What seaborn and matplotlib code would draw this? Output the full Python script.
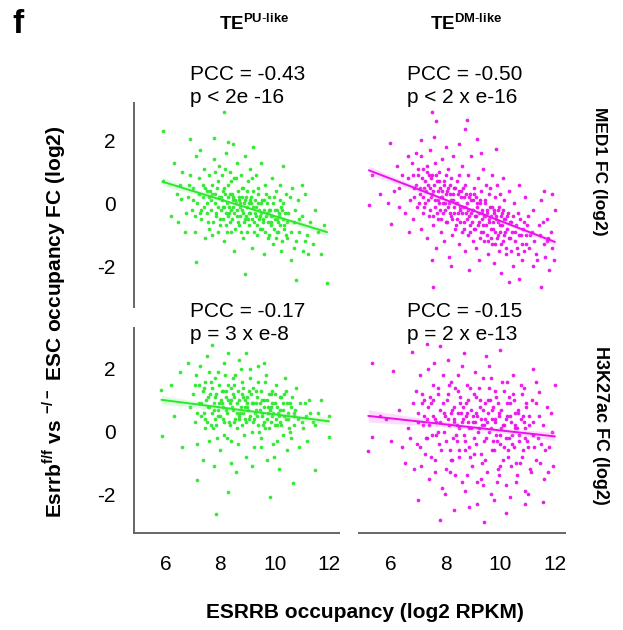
import pandas as pd
import matplotlib
matplotlib.use('Agg')
import matplotlib.pyplot as plt
import seaborn as sns

# ESRRB occupancy (log2 RPKM) vs occupancy FC (log2)
# TE PU-like, MED1
pu_med1 = [
    (5.87, 2.31), (8.12, 2.91), (11.93, -2.53), (8.9, -2.24), (7.12, -1.85), (6.88, 2.04),
    (7.76, 2.07), (8.3, 1.95), (11.24, -1.6), (10.79, -2.42), (6.2, -0.4), (6.69, -0.9),
    (5.9, 0.7), (6.3, 1.3), (6.55, 0.15),
    (7.2, 0.8), (7.3, -0.2), (7.4, 1.1), (7.5, 0.4), (7.55, -0.6), (7.6, 0.9), (7.65, 0.1),
    (7.7, -1.0), (7.75, 1.4), (7.8, 0.3), (7.85, -0.3), (7.9, 0.7), (7.95, 1.2), (8.0, -0.5),
    (8.02, 0.2), (8.05, 0.9), (8.1, -0.1), (8.12, -1.2), (8.15, 0.5), (8.2, 1.6), (8.22, -0.7),
    (8.25, 0.0), (8.3, 0.6), (8.32, -0.3), (8.35, 1.0), (8.4, -0.9), (8.42, 0.3), (8.45, -0.1),
    (8.5, 0.8), (8.52, -1.5), (8.55, 0.1), (8.6, -0.4), (8.62, 1.3), (8.65, 0.4), (8.7, -0.7),
    (8.72, 0.0), (8.75, 0.9), (8.8, -0.2), (8.82, -1.1), (8.85, 0.5), (8.9, 1.5), (8.92, -0.5),
    (8.95, 0.2), (9.0, -0.9), (9.02, 0.7), (9.05, -0.3), (9.1, 1.1), (9.12, 0.0), (9.15, -1.4),
    (9.2, 0.4), (9.25, -0.6), (9.3, 0.9), (9.32, -0.1), (9.35, -1.0), (9.4, 0.3), (9.45, -0.4),
    (9.5, 1.3), (9.55, -0.8), (9.6, 0.1), (9.62, -1.6), (9.65, 0.6), (9.7, -0.3), (9.75, -1.1),
    (9.8, 0.2), (9.85, -0.6), (9.9, 0.8), (9.95, -1.3), (10.0, -0.2), (10.05, 0.4), (10.1, -0.9),
    (10.15, -0.4), (10.2, 0.6), (10.25, -1.5), (10.3, 0.0), (10.35, -0.7), (10.4, 0.3),
    (10.45, -1.1), (10.5, -0.3), (10.6, -1.8), (10.65, 0.5), (10.7, -0.6), (10.8, -1.2),
    (10.85, 0.1), (10.9, -0.9), (11.0, -0.4), (11.05, -1.5), (11.1, 0.3), (11.2, -1.0),
    (11.3, -0.6), (11.4, -1.3), (11.5, -0.2), (11.6, -0.9), (11.7, -1.6), (11.8, -0.7),
    (7.0, 0.5), (7.05, -0.4), (7.1, 1.5), (6.9, 0.9), (6.8, 0.2), (6.75, -0.3), (6.6, 1.0),
    (6.5, 0.6), (6.45, -0.6), (6.4, 0.3), (7.15, 0.0), (7.25, 1.7), (7.35, 0.6), (7.45, -1.1),
    (7.58, 0.2), (7.68, 0.6), (7.82, 1.0), (7.92, -0.9), (8.08, 0.4), (8.18, 1.1), (8.28, -0.4),
    (8.38, 0.7), (8.48, 0.2), (8.58, 0.8), (8.68, 0.2), (8.78, 0.5), (8.88, 0.0), (8.98, 0.4),
    (9.08, 0.1), (9.18, 0.8), (9.28, -0.3), (9.38, 0.5), (9.48, 0.0), (9.58, -0.5), (9.68, 0.3),
    (9.78, -0.2), (9.88, -0.4), (9.98, 0.2), (10.08, -0.5), (10.18, 0.1), (10.28, -0.2),
    (10.55, 0.2), (10.75, -0.2), (8.45, 1.9), (9.2, 1.8), (10.3, 1.2), (11.0, 0.6),
    (7.3, -0.5), (7.35, 0.2), (7.4, -0.1), (7.45, 0.5), (7.5, -0.3), (7.52, 0.0), (7.57, -0.8),
    (7.62, 0.4), (7.66, -0.2), (7.71, 0.3), (7.74, -0.6), (7.79, 0.0), (7.83, -0.4), (7.87, 0.5),
    (7.91, -0.1), (7.96, 0.2), (7.99, -0.7), (8.03, -0.2), (8.06, 0.1), (8.11, -0.5), (8.14, -0.1),
    (8.17, 0.3), (8.21, -0.3), (8.24, -0.9), (8.27, 0.2), (8.31, -0.1), (8.34, -0.6), (8.37, 0.3),
    (8.41, -0.2), (8.44, -0.5), (8.47, 0.1), (8.51, -0.3), (8.54, -0.8), (8.57, 0.0), (8.61, -0.2),
    (8.64, -0.6), (8.67, 0.1), (8.71, -0.4), (8.74, -0.1), (8.77, -0.9), (8.81, 0.2), (8.84, -0.3),
    (8.87, -0.6), (8.91, 0.1), (8.94, -0.4), (8.97, -0.1), (9.01, -0.5), (9.04, 0.0), (9.07, -0.7),
    (9.11, -0.3), (9.14, 0.2), (9.17, -0.5), (9.21, -0.1), (9.24, -0.9), (9.27, 0.1), (9.31, -0.4),
    (9.34, -0.7), (9.37, 0.0), (9.41, -0.5), (9.44, -0.2), (9.47, -0.8), (9.51, -0.3), (9.54, 0.1),
    (9.57, -0.6), (9.61, -0.2), (9.64, -0.9), (9.67, -0.4), (9.71, 0.0), (9.74, -0.6), (9.77, -0.3),
    (9.81, -1.0), (9.84, -0.2), (9.87, -0.7), (9.91, -0.4), (9.94, 0.0), (9.97, -0.8), (10.01, -0.5),
    (10.04, -1.1), (10.07, -0.2), (10.11, -0.6), (10.14, -0.9), (10.17, -0.3), (10.21, -0.7),
    (10.24, -0.1), (10.27, -1.2), (10.31, -0.5), (10.34, -0.8), (10.38, -0.3), (10.42, -1.0),
    (10.46, -0.6), (7.2, 0.3), (7.25, -0.3), (7.0, 0.1), (6.95, -0.2), (6.85, 0.6), (7.08, -0.9),
    (10.6, -0.9), (10.7, -1.4), (10.9, -0.5), (11.1, -1.2),
]

# TE DM-like, MED1
dm_med1 = [
    (7.49, 2.9), (7.65, 2.63), (8.77, 2.65), (8.7, 2.37), (5.96, 1.93), (5.18, -0.05),
    (6.0, -0.66), (7.52, -2.64), (11.5, -2.64), (11.95, -1.79), (12.0, -0.2), (9.14, 2.04),
    (9.85, 1.72), (5.3, 0.9), (5.6, 0.3), (5.9, 0.0), (6.3, 0.5), (6.5, -0.3), (6.2, 1.2),
    (7.1, 2.0), (10.7, -2.4), (11.2, -2.0), (10.3, -2.5), (11.7, -1.2), (11.6, 0.4),
    (6.6, 0.8), (6.7, 0.1), (6.75, 1.3), (6.8, -0.5), (6.85, 0.5), (6.9, 1.6), (6.95, -0.1),
    (7.0, 0.9), (7.05, 0.3), (7.1, -0.8), (7.15, 1.1), (7.2, 0.5), (7.18, -0.3), (6.65, -0.9),
    (7.08, 1.5), (7.25, 0.0), (7.3, 1.2), (7.32, -1.1), (7.35, 0.6), (7.4, -0.4), (7.42, 1.7),
    (7.45, 0.2), (7.5, 0.9), (7.52, -0.7), (7.55, 0.4), (7.6, -0.1), (7.62, 1.3), (7.65, -1.4),
    (7.68, 0.7), (7.7, 0.1), (7.72, -0.5), (7.75, 1.0), (7.78, -0.2), (7.8, 0.5), (7.38, 0.9),
    (7.58, 2.1), (7.48, -1.8), (7.82, -0.9), (7.85, 0.2), (7.88, 1.4), (7.9, -0.3), (7.92, 0.7),
    (7.95, -1.2), (7.98, 0.0), (8.0, 0.9), (8.02, -0.6), (8.05, 0.4), (8.08, -0.1), (8.1, 1.1),
    (8.12, -1.7), (8.15, 0.3), (8.18, -0.4), (8.2, 0.8), (8.22, -1.0), (8.25, 0.1), (8.28, 1.5),
    (8.3, -0.3), (8.32, 0.5), (8.35, -0.8), (8.38, 0.0), (8.4, 0.7), (8.0, 1.8), (8.2, -2.0),
    (8.42, -0.5), (8.45, 0.3), (8.48, -1.3), (8.5, 0.9), (8.52, -0.2), (8.55, 0.4), (8.58, -0.9),
    (8.6, 1.2), (8.62, -0.1), (8.65, -0.6), (8.68, 0.2), (8.7, -1.5), (8.72, 0.6), (8.75, -0.3),
    (8.78, 0.0), (8.8, -1.0), (8.82, 0.9), (8.85, -0.4), (8.88, 0.3), (8.9, -0.7), (8.92, 1.5),
    (8.95, -0.2), (8.98, -1.2), (8.5, 1.9), (8.85, -2.1), (9.0, 0.1), (9.02, -0.8), (9.05, 0.5),
    (9.08, -0.4), (9.1, -1.4), (9.12, 0.2), (9.15, -0.1), (9.18, 0.8), (9.2, -0.6), (9.22, -1.8),
    (9.25, 0.0), (9.28, -0.9), (9.3, 0.4), (9.32, -0.3), (9.35, 1.1), (9.38, -0.7), (9.4, -1.2),
    (9.42, 0.1), (9.45, -0.4), (9.48, 0.6), (9.5, -1.0), (9.52, -0.2), (9.55, -1.6), (9.58, 0.3),
    (9.3, 1.6), (9.6, -0.6), (9.62, 0.5), (9.65, -1.1), (9.68, -0.1), (9.7, 0.9), (9.72, -0.8),
    (9.75, -1.9), (9.78, -0.3), (9.8, 0.2), (9.82, -1.3), (9.85, -0.5), (9.88, 0.6), (9.9, -1.0),
    (9.92, -0.2), (9.95, -1.5), (9.98, 0.3), (10.0, -0.7), (10.02, -2.2), (10.05, -0.3),
    (10.08, 0.8), (10.1, -1.2), (10.12, -0.5), (10.15, 0.1), (10.18, -0.9), (10.2, -1.6),
    (10.25, -0.4), (10.3, 0.4), (10.35, -1.1), (10.4, -0.6), (10.45, -2.0), (10.5, 0.0),
    (10.55, -0.9), (10.6, -1.4), (10.65, -0.3), (10.7, 0.6), (10.75, -1.0), (10.8, -1.8),
    (10.85, -0.6), (10.9, 0.2), (10.95, -1.3), (11.0, -0.4), (11.1, -1.0), (11.2, -0.2),
    (11.3, -1.6), (11.4, -0.7), (11.5, 0.1), (11.6, -1.3), (11.7, -0.5), (11.8, -2.1),
    (11.85, -0.9), (11.9, 0.3),
    (6.8, 0.9), (6.85, 0.2), (6.92, 0.6), (6.98, 1.1), (7.03, 0.0), (7.07, 0.5), (7.12, 0.8),
    (7.16, 0.2), (7.21, -0.1), (7.24, 0.7), (7.28, 0.4), (7.33, 1.0), (7.36, 0.1), (7.41, 0.5),
    (7.44, -0.2), (7.47, 0.8), (7.51, 0.3), (7.54, -0.4), (7.57, 0.6), (7.61, 0.1), (7.64, 0.9),
    (7.67, -0.3), (7.71, 0.4), (7.74, 0.0), (7.77, 0.7), (7.81, 0.2), (7.84, -0.5), (7.87, 0.4),
    (7.91, 0.0), (7.94, 0.6), (7.97, -0.2), (8.01, 0.3), (8.04, -0.6), (8.07, 0.5), (8.11, 0.0),
    (8.14, -0.3), (8.17, 0.6), (8.21, 0.1), (8.24, -0.5), (8.27, 0.3), (8.31, -0.1), (8.34, 0.5),
    (8.37, -0.7), (8.41, 0.0), (8.44, -0.3), (8.47, 0.4), (8.51, -0.1), (8.54, -0.6), (8.57, 0.2),
    (8.61, -0.3), (8.64, 0.5), (8.67, -0.8), (8.71, -0.1), (8.74, 0.3), (8.77, -0.5), (8.81, -0.2),
    (8.84, 0.2), (8.87, -0.9), (8.91, -0.3), (8.94, 0.1), (8.97, -0.6), (9.01, -0.2), (9.04, 0.3),
    (9.07, -0.8), (9.11, -0.4), (9.14, 0.0), (9.17, -0.7), (9.21, -0.3), (9.24, -1.1), (9.27, 0.1),
    (9.31, -0.5), (9.34, -0.2), (9.37, -0.9), (9.41, -0.4), (9.44, 0.0), (9.47, -0.7), (9.51, -0.3),
    (9.54, -1.2), (9.57, -0.5), (9.61, -0.1), (9.64, -0.8), (9.67, -0.4), (9.71, -1.3), (9.74, -0.6),
    (9.77, -0.2), (9.81, -0.9), (9.84, -0.4), (9.87, -1.1), (9.91, -0.6), (9.94, -0.1), (9.97, -0.9),
    (10.01, -0.4), (10.04, -1.3), (10.07, -0.7), (10.11, -0.2), (10.14, -1.0), (10.17, -0.5),
    (10.21, -1.4), (10.24, -0.8), (10.27, -0.3), (10.31, -1.1), (10.34, -0.6), (10.38, -1.5),
    (10.42, -0.9), (10.46, -0.4), (10.52, -1.2), (10.58, -0.7), (10.63, -1.6), (10.68, -1.0),
    (10.73, -0.5), (10.78, -1.3), (10.83, -0.8), (10.88, -1.5), (10.93, -1.0), (10.98, -0.7),
    (11.05, -1.4), (11.15, -0.9), (11.25, -1.2), (11.35, -1.8), (11.45, -1.0), (11.55, -0.6),
    (11.65, -1.7), (11.75, -1.1), (11.9, -1.4), (6.4, 0.9), (6.6, 1.5), (6.3, -0.1), (6.1, 0.4),
]

# TE PU-like, H3K27ac
pu_h3k27ac = [
    (7.84, -2.63), (8.29, -1.94), (9.82, -2.1), (7.13, -1.54), (5.83, 1.33), (5.86, -0.13),
    (7.68, 2.77), (12.0, -0.18), (11.48, -1.22), (10.68, -1.63), (8.94, 2.5), (6.3, 0.5),
    (6.5, 1.9), (6.2, 1.5), (6.8, 2.2), (6.6, -0.5), (11.7, 1.0), (11.5, 0.2), (12.0, 0.5),
    (7.0, 1.2), (7.05, 0.3), (7.1, 1.8), (7.15, -0.4), (7.2, 0.9), (7.25, 2.1), (7.3, 0.5),
    (7.35, -0.9), (7.4, 1.4), (7.45, 0.1), (7.5, 2.4), (7.55, 0.8), (7.6, -0.3), (7.65, 1.6),
    (7.7, 0.6), (7.75, -1.1), (7.8, 1.1), (7.85, 0.2), (7.9, 1.9), (7.95, 0.9), (8.0, -0.6),
    (8.05, 1.3), (8.1, 0.4), (8.15, 2.2), (8.2, 0.7), (8.25, -0.2), (8.3, 1.5), (8.35, 0.9),
    (8.4, -1.0), (8.45, 1.2), (8.5, 0.3), (8.55, 1.8), (8.6, 0.6), (8.65, -0.4), (8.7, 1.0),
    (8.75, 2.0), (8.8, 0.2), (8.85, 1.4), (8.9, 0.8), (8.95, -0.8), (9.0, 1.1), (9.05, 0.4),
    (9.1, 1.7), (9.15, 0.0), (9.2, 0.9), (9.25, -0.5), (9.3, 1.3), (9.35, 0.5), (9.4, 2.1),
    (9.45, 0.7), (9.5, -0.2), (9.55, 1.0), (9.6, 0.3), (9.65, 1.6), (9.7, -0.9), (9.75, 0.8),
    (9.8, 0.1), (9.85, 1.2), (9.9, 0.5), (9.95, -0.4), (10.0, 0.9), (10.05, 1.5), (10.1, 0.2),
    (10.15, -1.2), (10.2, 0.7), (10.25, 1.1), (10.3, -0.1), (10.35, 0.5), (10.4, 1.3),
    (10.45, -0.6), (10.5, 0.4), (10.55, 0.9), (10.6, -0.2), (10.7, 0.6), (10.8, 1.4),
    (10.9, -0.5), (11.0, 0.3), (11.1, 0.9), (11.2, -0.3), (11.3, 0.6),
    (7.22, 1.5), (7.42, 0.4), (7.62, 1.2), (7.72, 0.1), (7.82, 1.7), (7.92, 0.5), (8.02, 1.0),
    (8.12, -0.1), (8.22, 1.3), (8.32, 0.3), (8.42, 0.8), (8.52, 1.5), (8.62, 0.1), (8.72, 0.6),
    (8.82, 1.1), (8.92, 0.4), (9.02, 0.7), (9.12, 1.2), (9.22, 0.3), (9.32, 0.9), (9.42, 0.0),
    (9.52, 0.6), (9.62, 1.0), (9.72, 0.4), (9.82, 0.7), (9.92, 1.3), (10.02, 0.2), (10.12, 0.6),
    (10.32, 0.9), (10.52, 0.1), (10.72, 0.5), (7.48, 1.0), (7.78, 0.7), (8.08, 0.8), (8.38, 1.0),
    (8.68, 0.4), (8.98, 0.9), (9.28, 0.6), (9.58, 0.2), (9.88, 0.8), (10.18, 0.3), (8.58, -1.3),
    (9.18, -1.1), (8.28, 2.5), (9.6, 2.2),
    (7.3, 0.9), (7.35, 1.3), (7.4, 0.6), (7.45, 1.6), (7.5, 0.3), (7.55, 1.1), (7.6, 0.8),
    (7.65, 0.2), (7.7, 1.4), (7.75, 0.9), (7.8, 0.4), (7.85, 1.2), (7.9, 0.7), (7.95, 1.5),
    (8.0, 0.5), (8.05, 0.9), (8.1, 1.3), (8.15, 0.3), (8.2, 1.1), (8.25, 0.6), (8.3, 1.0),
    (8.35, 0.2), (8.4, 1.4), (8.45, 0.7), (8.5, 1.1), (8.55, 0.4), (8.6, 0.9), (8.65, 1.3),
    (8.7, 0.5), (8.75, 0.8), (8.8, 1.2), (8.85, 0.6), (8.9, 1.0), (8.95, 0.3), (9.0, 0.8),
    (9.05, 1.3), (9.1, 0.5), (9.15, 0.9), (9.2, 1.4), (9.25, 0.4), (9.3, 0.7), (9.35, 1.1),
    (9.4, 0.2), (9.45, 0.9), (9.5, 1.3), (9.55, 0.5), (9.6, 0.8), (9.65, 0.1), (9.7, 1.0),
    (9.75, 0.6), (9.8, 1.2), (9.85, 0.3), (9.9, 0.9), (9.95, 0.6), (10.0, 1.2), (10.05, 0.4),
    (10.1, 0.8), (10.15, 0.5), (10.2, 1.1), (10.25, 0.2), (10.3, 0.7), (10.35, 1.2), (10.4, 0.4),
    (10.45, 0.9), (10.5, 0.6), (10.55, 0.0), (10.6, 0.8), (10.65, 1.1), (10.7, 0.2), (10.75, 0.7),
    (10.85, 0.4), (10.95, 0.9), (11.05, 0.1), (11.15, 0.5), (11.25, 1.0), (11.4, 0.3), (11.6, 0.6),
    (7.15, 0.6), (7.05, 1.5), (6.9, 0.8), (8.18, 1.8), (8.48, 1.7), (8.78, 1.6), (9.08, 2.0),
    (9.38, 1.6), (9.68, 1.8), (8.38, -0.3), (8.88, -0.1), (9.48, -0.5), (10.08, -0.3), (7.58, 1.9),
    (7.88, -0.2), (10.38, 1.7), (8.68, 2.3), (9.98, -0.8),
]

# TE DM-like, H3K27ac
dm_h3k27ac = [
    (5.29, 2.2), (6.08, 1.95), (6.76, 2.55), (7.33, 2.8), (7.8, 2.72), (5.16, -0.62),
    (5.3, -0.16), (7.8, -2.84), (9.4, -2.9), (11.94, -1.09), (11.58, -2.24), (11.42, 1.25),
    (5.8, 0.4), (6.0, -0.3), (6.3, 0.7), (6.5, -1.0), (6.4, -0.5), (6.6, 0.1), (5.6, 0.5),
    (7.0, -2.2), (8.3, -2.5), (10.2, -2.6), (10.9, -2.3), (11.9, 0.0), (11.8, -0.5), (12.0, 1.5),
    (11.2, 2.0), (10.0, 2.6),
    (6.9, 1.3), (6.95, -0.4), (7.0, 0.6), (7.05, 1.8), (7.1, -1.1), (7.15, 0.2), (7.2, 1.0),
    (7.25, -0.7), (7.3, 0.4), (7.35, 2.0), (7.4, -1.5), (7.45, 0.9), (7.5, -0.1), (7.55, 1.5),
    (7.6, -0.9), (7.65, 0.3), (7.7, 1.2), (7.75, -0.4), (7.8, 0.7), (7.85, -1.8), (7.9, 1.8),
    (7.95, 0.0), (8.0, -1.2), (8.05, 1.0), (8.1, 0.4), (8.15, -0.6), (8.2, 1.6), (8.25, -0.2),
    (8.3, 0.8), (8.35, -1.4), (8.4, 0.2), (8.45, 1.3), (8.5, -0.8), (8.55, 0.6), (8.6, 2.1),
    (8.65, -0.1), (8.7, -1.9), (8.75, 0.9), (8.8, 0.3), (8.85, -0.5), (8.9, 1.4), (8.95, -1.1),
    (9.0, 0.5), (9.05, -0.2), (9.1, 1.1), (9.15, -1.6), (9.2, 0.1), (9.25, 0.8), (9.3, -0.7),
    (9.35, 1.7), (9.4, -0.3), (9.45, 0.4), (9.5, -1.3), (9.55, 1.0), (9.6, 0.0), (9.65, -2.0),
    (9.7, 0.7), (9.75, -0.6), (9.8, 1.3), (9.85, -0.1), (9.9, -1.2), (9.95, 0.6), (10.0, -0.4),
    (10.05, 1.6), (10.1, -0.9), (10.15, 0.2), (10.2, -1.7), (10.25, 0.9), (10.3, -0.2),
    (10.35, 0.5), (10.4, -1.1), (10.45, 1.2), (10.5, -0.5), (10.55, 0.1), (10.6, -1.4),
    (10.65, 0.7), (10.7, -0.3), (10.75, 1.5), (10.8, -0.8), (10.85, 0.3), (10.9, -1.9),
    (10.95, 0.8), (11.0, -0.5), (11.05, 0.2), (11.1, -1.2), (11.15, 1.0), (11.2, -0.1),
    (11.3, -0.9), (11.4, 0.5), (11.5, -0.4), (11.6, -1.5), (11.7, 0.8),
    (7.12, 0.9), (7.32, -0.2), (7.52, 0.5), (7.72, 0.0), (7.92, 0.6), (8.12, 1.5), (8.22, -0.9),
    (8.32, 0.3), (8.42, -0.3), (8.52, 0.9), (8.62, 0.4), (8.72, -0.6), (8.82, 1.0), (8.92, 0.1),
    (9.02, -0.7), (9.12, 0.6), (9.22, 1.4), (9.32, 0.2), (9.42, -0.9), (9.52, 0.3), (9.62, 1.0),
    (9.72, -0.3), (9.82, 0.4), (9.92, 0.9), (10.02, 0.1), (10.12, -0.5), (10.22, 0.4),
    (10.32, 1.1), (10.42, -0.1), (10.52, 0.6), (10.62, 0.1), (10.72, -1.0), (10.82, 0.5),
    (10.92, -0.2), (8.18, 0.6), (8.48, 0.1), (8.78, 0.6), (9.08, 0.3), (9.38, 0.7), (9.68, 0.4),
    (9.98, -0.1), (10.28, -0.6), (8.58, -1.6), (9.28, -1.5), (9.88, -1.6), (8.08, 2.3),
    (9.58, 2.1), (10.48, 1.8), (7.62, -1.3), (7.42, 1.1),
    (7.0, 0.3), (7.06, -0.5), (7.14, 1.2), (7.2, 0.5), (7.27, -0.2), (7.34, 0.8), (7.4, 0.2),
    (7.46, -0.8), (7.53, 1.0), (7.59, 0.4), (7.66, -0.1), (7.72, 1.4), (7.78, 0.3), (7.84, -0.6),
    (7.9, 0.9), (7.96, 0.5), (8.02, -0.3), (8.07, 1.2), (8.13, 0.2), (8.19, -0.9), (8.24, 0.7),
    (8.29, 0.4), (8.34, 1.4), (8.39, -0.1), (8.44, 0.6), (8.49, -0.6), (8.54, 1.1), (8.59, 0.3),
    (8.64, 0.8), (8.69, -0.3), (8.74, 0.5), (8.79, 1.5), (8.84, 0.1), (8.89, -0.8), (8.94, 0.7),
    (8.99, 0.3), (9.04, 1.2), (9.09, -0.4), (9.14, 0.5), (9.19, 0.0), (9.24, 1.0), (9.29, 0.4),
    (9.34, -1.0), (9.39, 0.2), (9.44, 0.9), (9.49, -0.2), (9.54, 0.6), (9.59, 1.4), (9.64, 0.1),
    (9.69, -0.6), (9.74, 0.8), (9.79, 0.3), (9.84, 1.1), (9.89, -0.3), (9.94, 0.5), (9.99, -1.1),
    (10.04, 0.7), (10.09, 0.2), (10.14, 1.3), (10.19, -0.2), (10.24, 0.5), (10.29, -0.8),
    (10.34, 0.9), (10.39, 0.3), (10.44, -0.4), (10.49, 1.0), (10.54, 0.2), (10.59, -1.0),
    (10.64, 0.6), (10.69, -0.1), (10.74, 0.4), (10.79, 1.2), (10.84, -0.6), (10.89, 0.1),
    (10.94, 0.9), (10.99, -0.3), (11.05, 0.5), (11.12, -1.3), (11.18, 0.3), (11.25, -0.5),
    (11.32, 0.9), (11.38, -0.2), (11.45, -1.0), (11.55, 0.2), (11.65, -0.6), (11.75, -1.3),
    (11.85, 0.6), (8.16, -1.3), (8.46, 1.8), (8.76, -1.4), (9.06, 1.9), (9.36, -1.7), (9.66, 1.7),
    (9.96, -1.4), (10.26, 1.6), (10.56, -1.6), (10.86, 1.4), (9.16, -2.3), (9.76, -2.2),
    (10.36, -2.1), (8.86, -2.4), (7.96, -2.0), (8.66, 2.5), (9.46, 2.4), (7.56, 2.2), (6.7, -0.2),
    (6.8, 0.9), (6.85, -1.2), (11.0, -2.0), (11.3, 1.6),
]

pcc_labels = ['PCC = -0.43', 'PCC = -0.50', 'PCC = -0.17', 'PCC = -0.15']
p_labels = ['p < 2e -16', 'p < 2 x e-16', 'p = 3 x e-8', 'p = 2 x e-13']
x_ticks = [6, 8, 10, 12]
y_ticks = [-2, 0, 2]

green = '#2ce82c'
magenta = '#ec10ec'

sns.set_style('white')
plt.rcParams['font.family'] = ['Liberation Sans', 'DejaVu Sans']
plt.rcParams['mathtext.fontset'] = 'custom'
plt.rcParams['mathtext.rm'] = 'Liberation Sans'
plt.rcParams['mathtext.bf'] = 'Liberation Sans:bold'
plt.rcParams['text.color'] = 'black'
plt.rcParams['xtick.labelcolor'] = 'black'
plt.rcParams['ytick.labelcolor'] = 'black'

W, H = 623, 630
fig = plt.figure(figsize=(W / 100, H / 100), dpi=100)


def box(x0, y0, x1, y1):
    # pixel box (top-left origin) -> figure fraction rect
    return [x0 / W, 1 - y1 / H, (x1 - x0) / W, (y1 - y0) / H]


panels = [
    (pu_med1, green, box(134, 103, 339, 307), (-3.29, 3.19), 'left'),
    (dm_med1, magenta, box(359, 103, 565, 307), (-3.29, 3.19), 'none'),
    (pu_h3k27ac, green, box(134, 328, 339, 533), (-3.24, 3.31), 'both'),
    (dm_h3k27ac, magenta, box(359, 328, 565, 533), (-3.24, 3.31), 'bottom'),
]

for pts, col, rect, ylim, spines in panels:
    ax = fig.add_axes(rect)
    df = pd.DataFrame(pts, columns=['esrrb', 'fc'])
    sns.regplot(data=df, x='esrrb', y='fc', ax=ax, color=col, ci=68,
                scatter_kws={'s': 7, 'linewidths': 0, 'alpha': 0.95},
                line_kws={'lw': 1.4})
    ax.set_xlim(4.82, 12.37)
    ax.set_ylim(*ylim)
    ax.set_xlabel('')
    ax.set_ylabel('')
    for s in ax.spines.values():
        s.set_visible(False)
        s.set_color('#666666')
        s.set_linewidth(1.4)
    ax.tick_params(direction='out', length=5, width=1.2, color='#666666',
                   labelsize=15, pad=8)
    ax.tick_params(axis='x', pad=11)
    if spines in ('left', 'both'):
        ax.spines['left'].set_visible(True)
        ax.set_yticks(y_ticks)
        ax.set_yticklabels([str(t) for t in y_ticks])
    else:
        ax.set_yticks([])
    if spines in ('bottom', 'both'):
        ax.spines['bottom'].set_visible(True)
        ax.set_xticks(x_ticks)
        ax.set_xticklabels([str(t) for t in x_ticks])
    else:
        ax.set_xticks([])
    ax.patch.set_alpha(0)

# per-panel stats
stat_pos = [(190, 80, 103), (407, 80, 103), (190, 317, 340), (407, 317, 340)]
for (x, y1, y2), pcc, pv in zip(stat_pos, pcc_labels, p_labels):
    fig.text(x / W, 1 - y1 / H, pcc, fontsize=15, va='baseline', ha='left')
    fig.text(x / W, 1 - y2 / H, pv, fontsize=15, va='baseline', ha='left')

fig.text(12 / W, 1 - 33 / H, 'f', fontsize=24, fontweight='bold', va='baseline')
fig.text(254 / W, 1 - 30 / H, r'$\mathbf{TE^{PU\text{-}like}}$', fontsize=13.5,
         ha='center', va='baseline')
fig.text(466 / W, 1 - 30 / H, r'$\mathbf{TE^{DM\text{-}like}}$', fontsize=13.5,
         ha='center', va='baseline')

fig.text(54 / W, 1 - 322 / H, r'Esrrb$^{\mathbf{f/f}}$ vs $^{\mathbf{-/-}}$ ESC occupancy FC (log2)',
         fontsize=15, fontweight='bold', rotation=90, ha='center', va='center')
fig.text(600 / W, 1 - 171 / H, 'MED1 FC (log2)', fontsize=12.5, fontweight='bold',
         rotation=-90, ha='center', va='center')
fig.text(600 / W, 1 - 425 / H, 'H3K27ac FC (log2)', fontsize=13, fontweight='bold',
         rotation=-90, ha='center', va='center')
fig.text(365 / W, 1 - 612 / H, 'ESRRB occupancy (log2 RPKM)', fontsize=15,
         fontweight='bold', ha='center', va='center')

fig.savefig('out.png', dpi=100)
